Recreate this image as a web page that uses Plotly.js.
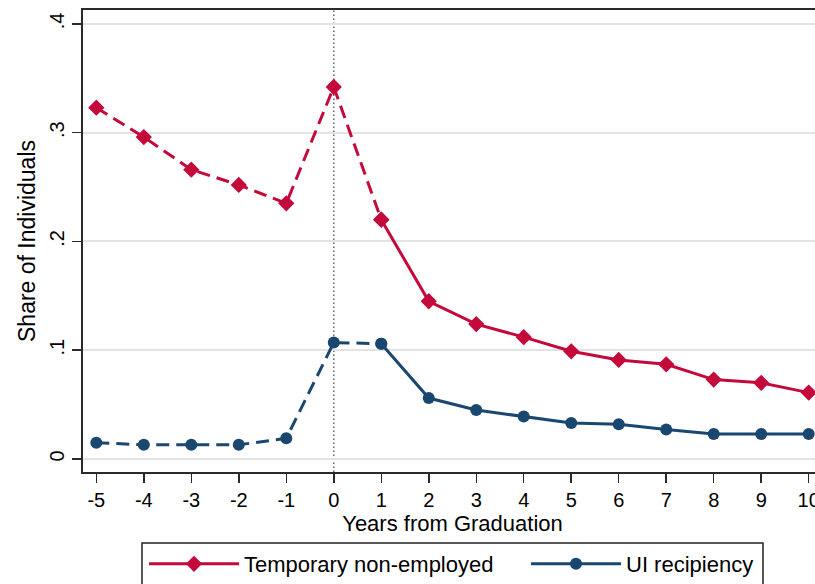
<!DOCTYPE html>
<html>
<head>
<meta charset="utf-8">
<script src="https://cdn.plot.ly/plotly-3.0.1.min.js"></script>
<style>
html,body{margin:0;padding:0;overflow:hidden;background:#fff;}
#chart{width:840px;height:584px;}
</style>
</head>
<body>
<div id="chart"></div>
<script>
const years = [-5,-4,-3,-2,-1,0,1,2,3,4,5,6,7,8,9,10];
const tempNonEmployed = [0.323,0.296,0.266,0.252,0.235,0.342,0.220,0.145,0.124,0.112,0.099,0.091,0.087,0.073,0.070,0.061];
const uiRecipiency = [0.015,0.013,0.013,0.013,0.019,0.107,0.106,0.056,0.045,0.039,0.033,0.032,0.027,0.023,0.023,0.023];
const xTickVals = [-5,-4,-3,-2,-1,0,1,2,3,4,5,6,7,8,9,10];
const yTickVals = [0,0.1,0.2,0.3,0.4];
const yTickText = ['0','.1','.2','.3','.4'];
const seriesNames = ['Temporary non-employed','UI recipiency'];

const RED = '#c4093b';
const BLUE = '#1a476f';
const split = years.indexOf(1);

function parts(vals, name, color, symbol, msize, legendId){
  return [
    {x: years.slice(0, split+1), y: vals.slice(0, split+1), mode:'lines+markers', name:name,
     line:{color:color, width:3, dash:'13px,7px'}, marker:{color:color, symbol:symbol, size:msize},
     showlegend:false, hoverinfo:'skip'},
    {x: years.slice(split), y: vals.slice(split), mode:'lines+markers', name:name,
     line:{color:color, width:3}, marker:{color:color, symbol:symbol, size:msize},
     showlegend:true, legend: legendId}
  ];
}

const data = [].concat(
  parts(tempNonEmployed, seriesNames[0], RED, 'diamond', 12.5, 'legend'),
  parts(uiRecipiency, seriesNames[1], BLUE, 'circle', 12, 'legend2')
);

const legendCommon = {
  orientation: 'h', xref: 'container', yref: 'container',
  xanchor: 'left', y: 1 - 564/584, yanchor: 'middle',
  borderwidth: 0, bgcolor: 'rgba(0,0,0,0)',
  font: {size: 22}, itemwidth: 90
};

const layout = {
  width: 840, height: 584,
  margin: {l: 83, r: 18, t: 10, b: 112},
  paper_bgcolor: '#fff', plot_bgcolor: '#fff',
  font: {family: 'Liberation Sans, Arial, sans-serif', color: '#000', size: 20},
  showlegend: true,
  xaxis: {
    range: [-5.28, 10.28], tickvals: xTickVals, ticktext: xTickVals.map(String),
    showgrid: false, zeroline: false,
    showline: true, linecolor: '#2a2a2a', linewidth: 2, mirror: true,
    ticks: 'outside', ticklen: 9, tickwidth: 1.5, tickcolor: '#2a2a2a',
    tickfont: {size: 20},
    title: {text: 'Years from Graduation', font: {size: 22}, standoff: 3}
  },
  yaxis: {
    range: [-0.012, 0.4128], tickvals: yTickVals, ticktext: yTickText,
    tickangle: -90,
    showgrid: true, gridcolor: '#e3e3e3', gridwidth: 2, zeroline: false,
    showline: true, linecolor: '#2a2a2a', linewidth: 2,
    ticks: 'outside', ticklen: 9, tickwidth: 1.5, tickcolor: '#2a2a2a',
    tickfont: {size: 20},
    title: {text: 'Share of Individuals', font: {size: 23}, standoff: 4}
  },
  shapes: [
    {type: 'line', xref: 'x', yref: 'paper', x0: 0, x1: 0, y0: 0, y1: 1,
     line: {color: '#666', width: 1.5, dash: '1.5px,2.5px'}, layer: 'below'},
    {type: 'rect', xref: 'paper', yref: 'paper', x0: (142-83)/739, x1: (763-83)/739,
     y0: (472-543)/462, y1: -0.27,
     line: {color: '#222', width: 1.5}, fillcolor: 'rgba(0,0,0,0)'}
  ],
  legend: Object.assign({}, legendCommon, {x: 144/840}),
  legend2: Object.assign({}, legendCommon, {x: 526/840})
};

Plotly.newPlot('chart', data, layout, {displayModeBar: false, staticPlot: true});
</script>
</body>
</html>
